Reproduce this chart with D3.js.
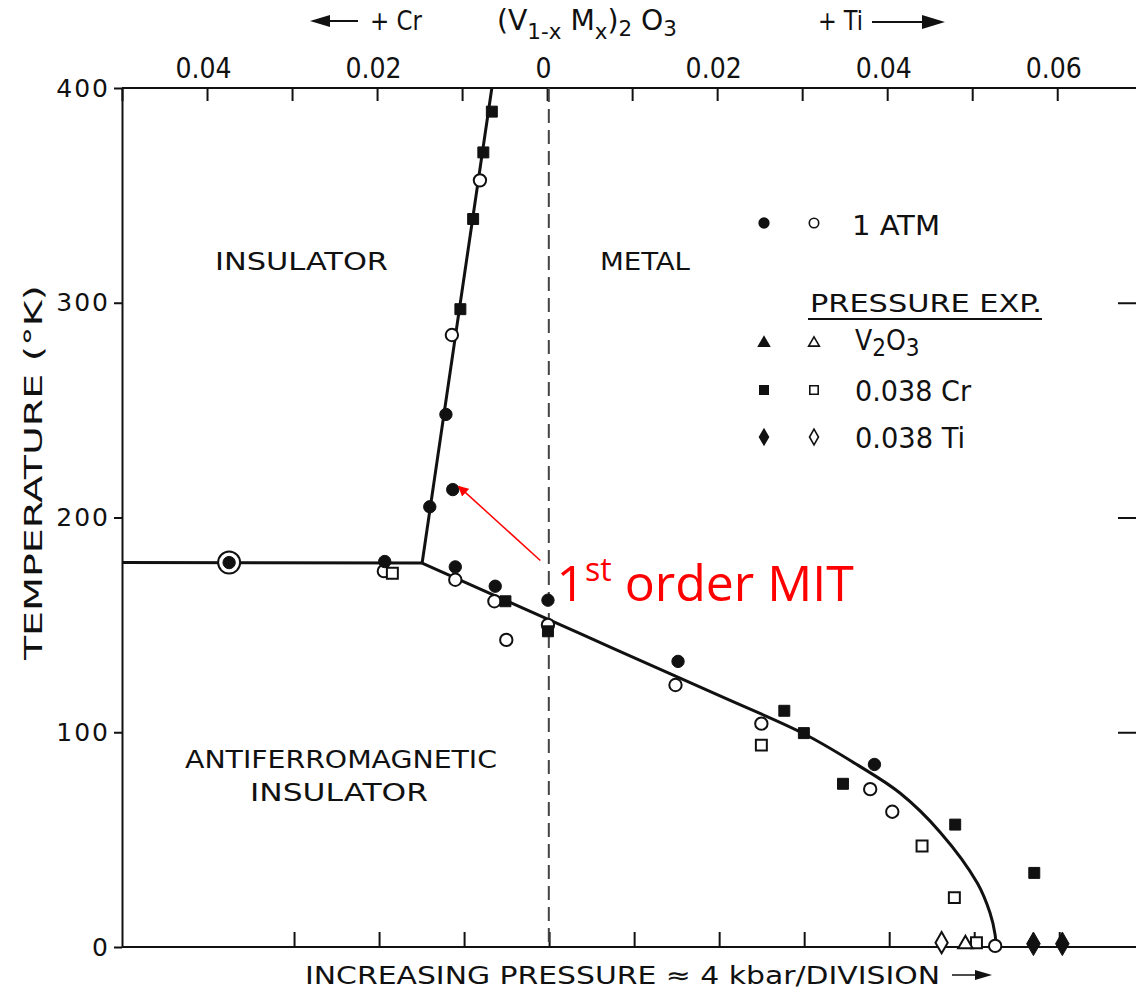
<!DOCTYPE html>
<html>
<head>
<meta charset="utf-8">
<script src="https://cdn.jsdelivr.net/npm/d3@7/dist/d3.min.js"></script>
<style>
body { margin: 0; background: #fff; }
text { font-family: "DejaVu Sans Condensed", "DejaVu Sans", sans-serif; fill: #111; }
</style>
</head>
<body>
<svg id="svg" width="1136" height="992"></svg>
<script>
// composition x (Cr negative, Ti positive), temperature in K
var topTicks = [-0.05, -0.04, -0.03, -0.02, -0.01, 0, 0.01, 0.02, 0.03, 0.04, 0.05, 0.06];
var topLabels = [-0.04, -0.02, 0, 0.02, 0.04, 0.06];
var bottomTicks = [-0.03, -0.02, -0.01, 0, 0.01, 0.02, 0.03, 0.04, 0.05, 0.06];
var tempTicks = [0, 100, 200, 300, 400];

// phase boundaries
var lineFlat = [[-0.05, 179], [-0.0147, 178.8]];
var lineSteep = [[-0.0147, 178.8], [-0.0065, 400]];
var lineCurve = [[-0.0147, 178.8], [0.0039, 145.9], [0.0204, 116.8], [0.0302, 99.3], [0.0365, 84.8],
                 [0.0415, 71.7], [0.0462, 53.6], [0.0506, 29.8], [0.0521, 15.8], [0.0527, 5.6],
                 [0.0528, 0]];

// 1 atm
var atmFilled = [[-0.0119, 248], [-0.0111, 213], [-0.0138, 205], [-0.0191, 179.5], [-0.0108, 177],
                 [-0.0061, 168], [0.0001, 161.5], [0.0154, 133], [0.0385, 85]];
var atmOpen = [[-0.0079, 357], [-0.0112, 285], [-0.0192, 175], [-0.0108, 171], [-0.0062, 161],
               [-0.0048, 143], [0.0001, 150], [0.0151, 122], [0.0252, 104], [0.0380, 73.5],
               [0.0406, 63], [0.0527, 0.5]];
var ringPoint = [[-0.0374, 179]];
// pressure experiments
var v2o3Open = [[0.0492, 1.4]];
var crFilled = [[-0.0065, 389], [-0.0075, 370], [-0.0087, 339], [-0.0102, 297], [-0.0049, 161],
                [0.0001, 147], [0.0279, 110], [0.0302, 99.6], [0.0348, 76], [0.0480, 57], [0.0573, 34.5]];
var crOpen = [[-0.0182, 174], [0.0252, 94], [0.0441, 47], [0.0479, 23], [0.0505, 2]];
var tiFilled = [[0.0572, 1.5], [0.0606, 1.5]];
var tiOpen = [[0.0464, 2]];

var svg = d3.select("#svg");

var x = d3.scaleLinear().domain([-0.05, 0.0695]).range([122, 1138]);
var y = d3.scaleLinear().domain([0, 400]).range([947, 88]);

// frame
svg.append("line").attr("x1", 122).attr("x2", 1138).attr("y1", 88).attr("y2", 88)
    .attr("stroke", "#111").attr("stroke-width", 2);
svg.append("line").attr("x1", 122).attr("x2", 1138).attr("y1", 947).attr("y2", 947)
    .attr("stroke", "#111").attr("stroke-width", 2);

var topAxis = svg.append("g").attr("transform", "translate(0,88)")
    .call(d3.axisTop(x).tickValues(topTicks).tickSizeInner(-13).tickSizeOuter(0).tickPadding(10)
        .tickFormat(function(d) {
            var hit = topLabels.some(function(l) { return Math.abs(l - d) < 1e-9; });
            if (!hit) return "";
            return d == 0 ? "0" : d3.format(".2f")(Math.abs(d));
        }));
topAxis.select(".domain").remove();
topAxis.selectAll("line").attr("stroke", "#111").attr("stroke-width", 2);
topAxis.selectAll("text").attr("font-size", 28).attr("dx", -4)
    .style("font-family", "'DejaVu Sans Condensed','DejaVu Sans',sans-serif").attr("fill", "#111");

var botAxis = svg.append("g").attr("transform", "translate(0,947)")
    .call(d3.axisBottom(x).tickValues(bottomTicks).tickSizeInner(-15).tickSizeOuter(0).tickFormat(""));
botAxis.select(".domain").remove();
botAxis.selectAll("line").attr("stroke", "#111").attr("stroke-width", 2)
    .attr("transform", "translate(2,0)");

var leftAxis = svg.append("g").attr("transform", "translate(122,0)")
    .call(d3.axisLeft(y).tickValues(tempTicks).tickSizeInner(8).tickSizeOuter(0).tickPadding(4));
leftAxis.select(".domain").attr("stroke", "#111").attr("stroke-width", 2);
leftAxis.selectAll("line").attr("stroke", "#111").attr("stroke-width", 2);
leftAxis.selectAll("text").attr("font-size", 25).attr("letter-spacing", 2)
    .style("font-family", "'DejaVu Sans',sans-serif").attr("fill", "#111");

var rightAxis = svg.append("g").attr("transform", "translate(1138,0)")
    .call(d3.axisRight(y).tickValues([100, 200, 300]).tickSizeInner(-20).tickSizeOuter(0).tickFormat(""));
rightAxis.select(".domain").attr("stroke", "#111").attr("stroke-width", 2);
rightAxis.selectAll("line").attr("stroke", "#111").attr("stroke-width", 2);

// dashed x = 0 line
svg.append("line")
    .attr("x1", x(0.0002)).attr("x2", x(0.0002)).attr("y1", y(400)).attr("y2", y(0))
    .attr("stroke", "#444").attr("stroke-width", 2).attr("stroke-dasharray", "14,7");

// phase boundaries
var line = d3.line().x(function(d) { return x(d[0]); }).y(function(d) { return y(d[1]); });
[lineFlat, lineSteep].forEach(function(seg) {
    svg.append("path").datum(seg).attr("d", line)
        .attr("fill", "none").attr("stroke", "#111").attr("stroke-width", 3);
});
svg.append("path").datum(lineCurve).attr("d", line.curve(d3.curveCatmullRom.alpha(0.5)))
    .attr("fill", "none").attr("stroke", "#111").attr("stroke-width", 3);

// markers
function drawPoints(data, type, size, filled) {
    svg.append("g").selectAll("path").data(data).enter().append("path")
        .attr("transform", function(d) { return "translate(" + x(d[0]) + "," + y(d[1]) + ")"; })
        .attr("d", d3.symbol().type(type).size(size))
        .attr("fill", filled ? "#111" : "#fff")
        .attr("stroke", "#111").attr("stroke-width", filled ? 1 : 2);
}
svg.append("g").selectAll("circle").data(ringPoint).enter().append("circle")
    .attr("cx", function(d) { return x(d[0]); }).attr("cy", function(d) { return y(d[1]); })
    .attr("r", 11).attr("fill", "#fff").attr("stroke", "#111").attr("stroke-width", 2);
drawPoints(ringPoint, d3.symbolCircle, 120, true);
drawPoints(atmOpen, d3.symbolCircle, 120, false);
drawPoints(crOpen, d3.symbolSquare, 120, false);
drawPoints(v2o3Open, d3.symbolTriangle, 90, false);
drawPoints(tiOpen, d3.symbolDiamond, 130, false);
drawPoints(atmFilled, d3.symbolCircle, 120, true);
drawPoints(crFilled, d3.symbolSquare, 120, true);
drawPoints(tiFilled, d3.symbolDiamond, 160, true);

// region labels
function label(txt, px, py, len, size) {
    return svg.append("text").attr("x", px).attr("y", py).attr("font-size", size || 25)
        .attr("textLength", len).attr("lengthAdjust", "spacingAndGlyphs").text(txt);
}
label("INSULATOR", 215, 270, 173);
label("METAL", 600, 270, 90);
label("ANTIFERROMAGNETIC", 185, 768, 312);
label("INSULATOR", 250, 801, 178);

// axis titles
svg.append("text").attr("transform", "translate(42,660) rotate(-90)")
    .attr("font-size", 25).attr("textLength", 375).attr("lengthAdjust", "spacingAndGlyphs")
    .text("TEMPERATURE (°K)");
label("INCREASING PRESSURE ≈ 4 kbar/DIVISION", 305, 984, 635);
svg.append("line").attr("x1", 952).attr("x2", 978).attr("y1", 975).attr("y2", 975)
    .attr("stroke", "#111").attr("stroke-width", 1.5);
svg.append("path").attr("d", "M975,970 L992,975 L975,980 Z").attr("fill", "#111");

// top title
svg.append("line").attr("x1", 325).attr("x2", 358).attr("y1", 21).attr("y2", 21)
    .attr("stroke", "#111").attr("stroke-width", 2);
svg.append("path").attr("d", "M310,21 L330,15 L330,27 Z").attr("fill", "#111");
label("+ Cr", 370, 30, 52, 26);
var formula = svg.append("text").attr("x", 497).attr("y", 30).attr("font-size", 29)
    .attr("textLength", 180).attr("lengthAdjust", "spacingAndGlyphs");
formula.append("tspan").text("(V");
formula.append("tspan").attr("font-size", 22).attr("dy", 9).text("1-x");
formula.append("tspan").attr("dy", -9).text(" M");
formula.append("tspan").attr("font-size", 22).attr("dy", 9).text("x");
formula.append("tspan").attr("dy", -9).text(")");
formula.append("tspan").attr("font-size", 22).attr("dy", 6).text("2");
formula.append("tspan").attr("dy", -6).text(" O");
formula.append("tspan").attr("font-size", 22).attr("dy", 6).text("3");
label("+ Ti", 818, 30, 45, 26);
svg.append("line").attr("x1", 872).attr("x2", 925).attr("y1", 22).attr("y2", 22)
    .attr("stroke", "#111").attr("stroke-width", 2);
svg.append("path").attr("d", "M945,22 L922,15 L922,29 Z").attr("fill", "#111");

// legend
var legendTypes = [d3.symbolCircle, d3.symbolTriangle, d3.symbolSquare, d3.symbolDiamond];
var legendNames = ["1 ATM", "V2O3", "0.038 Cr", "0.038 Ti"];
var legendY = [223, 343, 390, 437];
legendNames.forEach(function(name, i) {
    var ly = legendY[i];
    svg.append("path").attr("transform", "translate(764," + ly + ")")
        .attr("d", d3.symbol().type(legendTypes[i]).size(i == 1 ? 80 : 100)).attr("fill", "#111");
    svg.append("path").attr("transform", "translate(814," + ly + ")")
        .attr("d", d3.symbol().type(legendTypes[i]).size(i == 1 ? 50 : 70))
        .attr("fill", "#fff").attr("stroke", "#111").attr("stroke-width", 1.6);
});
label("1 ATM", 852, 235, 88, 26);
label("PRESSURE EXP.", 810, 312, 232, 25);
svg.append("line").attr("x1", 808).attr("x2", 1042).attr("y1", 319).attr("y2", 319)
    .attr("stroke", "#111").attr("stroke-width", 2);
var v2o3 = svg.append("text").attr("x", 855).attr("y", 350).attr("font-size", 28);
v2o3.append("tspan").text("V");
v2o3.append("tspan").attr("font-size", 24).attr("dy", 6).text("2");
v2o3.append("tspan").attr("dy", -6).text("O");
v2o3.append("tspan").attr("font-size", 24).attr("dy", 6).text("3");
label("0.038 Cr", 855, 401, 116, 28);
label("0.038 Ti", 855, 448, 110, 28);

// annotation
svg.append("defs").append("marker").attr("id", "redhead")
    .attr("viewBox", "0 0 10 10").attr("refX", 9).attr("refY", 5)
    .attr("markerWidth", 7).attr("markerHeight", 7).attr("orient", "auto")
    .append("path").attr("d", "M0,0 L10,5 L0,10 Z").attr("fill", "#f00");
svg.append("line")
    .attr("x1", x(-0.0008)).attr("y1", y(180)).attr("x2", x(-0.0104)).attr("y2", y(214.5))
    .attr("stroke", "#f00").attr("stroke-width", 1.5).attr("marker-end", "url(#redhead)");
var mit = svg.append("text").attr("x", x(0.0011)).attr("y", y(161))
    .attr("font-size", 50).style("font-family", "'Open Sans','Liberation Sans',sans-serif")
    .style("fill", "#f00");
mit.append("tspan").text("1");
mit.append("tspan").attr("font-size", 32).attr("dy", -20).text("st");
mit.append("tspan").attr("dy", 20).text(" order MIT");
</script>
</body>
</html>
